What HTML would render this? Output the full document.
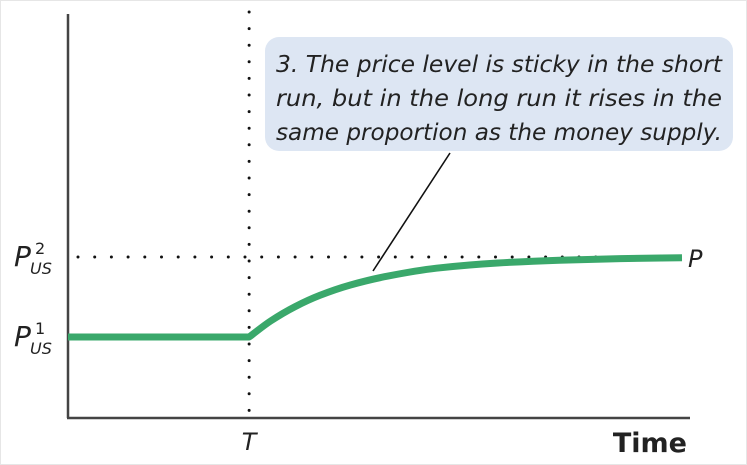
<!DOCTYPE html>
<html><head><meta charset="utf-8"><style>
html,body{margin:0;padding:0;background:#fff;}
svg{display:block;font-family:"DejaVu Sans","Liberation Sans",sans-serif;}
</style></head><body>
<svg id="chart" width="747" height="465" viewBox="0 0 747 465">
<rect x="0.5" y="0.5" width="746" height="464" fill="#fff" stroke="#e6e6e6"/>
<g id="axes"></g>
<g id="marks"></g>
<g id="labels"></g>
</svg>
<script>
const times = [0, 29.5, 33, 37, 41, 46, 52, 60, 70, 80, 90, 100];
const prices = [100, 100, 120, 138, 152, 165, 176, 186, 192.5, 196, 198, 199];
const shockTime = [29.5];
const levelValues = [100, 200];
const levelLabels = ["1", "2"];
const xLabel = ["T", "Time"];

const NS = "http://www.w3.org/2000/svg";
function xs(t){ return 68 + (t/100)*(682-68); }
function ys(p){ return 337 - (p-100)/100*80; }
function mk(tag, attrs, parent){
  const e = document.createElementNS(NS, tag);
  for (const k in attrs) e.setAttribute(k, attrs[k]);
  parent.appendChild(e); return e;
}
const axes = document.getElementById('axes');
const marks = document.getElementById('marks');
const labels = document.getElementById('labels');

const yAxis = mk('line',{x1:68,y1:14,x2:68,y2:418,stroke:'#444','stroke-width':2.5},axes);


const xAxis = mk('line',{x1:67,y1:418,x2:690,y2:418,stroke:'#444','stroke-width':2.5},axes);



const tx = xs(shockTime[0]);
const vdot = mk('line',{x1:tx,y1:12,x2:tx,y2:416,stroke:'#111','stroke-width':3,'stroke-linecap':'round','stroke-dasharray':'0 16.6'},marks);


const hdot = mk('line',{x1:78,y1:ys(levelValues[1]),x2:680,y2:ys(levelValues[1]),stroke:'#111','stroke-width':3,'stroke-linecap':'round','stroke-dasharray':'0 16.7'},marks);



const pts = times.map((t,i)=>[xs(t), ys(prices[i])]);
let startIdx = 0;
for (let i=1;i<prices.length;i++){ if (prices[i]===prices[0]) startIdx=i; else break; }
let d = `M${pts[0][0]},${pts[0][1]}`;
for (let i=1;i<=startIdx;i++) d += ` L${pts[i][0]},${pts[i][1]}`;
const seg = pts.slice(startIdx);
const n = seg.length;
const sec = [];
for (let i=0;i<n-1;i++) sec.push((seg[i+1][1]-seg[i][1])/(seg[i+1][0]-seg[i][0]));
const m = [];
m[0] = sec[0];
for (let i=1;i<n-1;i++){
  if (sec[i-1]*sec[i] <= 0) m[i]=0;
  else m[i] = 2/(1/sec[i-1]+1/sec[i]);
}
m[n-1] = sec[n-2];
for (let i=0;i<n-1;i++){
  const h = seg[i+1][0]-seg[i][0];
  d += ` C${seg[i][0]+h/3},${seg[i][1]+m[i]*h/3} ${seg[i+1][0]-h/3},${seg[i+1][1]-m[i+1]*h/3} ${seg[i+1][0]},${seg[i+1][1]}`;
}
const curve = mk('path',{d:d,fill:'none',stroke:'#3aa86b','stroke-width':7,'stroke-linejoin':'round'},marks);



const ptr = mk('line',{x1:450,y1:153,x2:373,y2:271,stroke:'#111','stroke-width':1.6},marks);



const box = mk('rect',{x:265,y:37,width:468,height:114,rx:14,fill:'#dde6f3'},labels);


const lines = ["3. The price level is sticky in the short","run, but in the long run it rises in the","same proportion as the money supply."];
lines.forEach((s,i)=>{
  const t = mk('text',{x:276,y:72+i*34,'font-size':23.5,'font-style':'italic',fill:'#222',textLength:446,lengthAdjust:'spacingAndGlyphs'},labels);
  t.textContent = s;
  
  
});

levelValues.forEach((v,i)=>{
  const y = ys(v);
  const t = mk('text',{x:14,y:y+9,'font-size':28,'font-style':'italic',fill:'#222'},labels);
  t.textContent = 'P';
  
  
  const sup = mk('text',{x:35,y:y-3,'font-size':16,fill:'#222'},labels);
  sup.textContent = levelLabels[i];
  
  
  const sub = mk('text',{x:30,y:y+17,'font-size':16,'font-style':'italic',fill:'#222'},labels);
  sub.textContent = 'US';
  
  
});

const pl = mk('text',{x:688,y:ys(prices[prices.length-1])+9,'font-size':24,'font-style':'italic',fill:'#222'},labels);
pl.textContent = 'P';



const tl = mk('text',{x:tx,y:450,'font-size':24,'font-style':'italic',fill:'#222','text-anchor':'middle'},labels);
tl.textContent = xLabel[0];



const xl = mk('text',{x:687,y:452,'font-size':27,'font-weight':'bold',fill:'#222','text-anchor':'end'},labels);
xl.textContent = xLabel[1];


</script>
</body></html>
